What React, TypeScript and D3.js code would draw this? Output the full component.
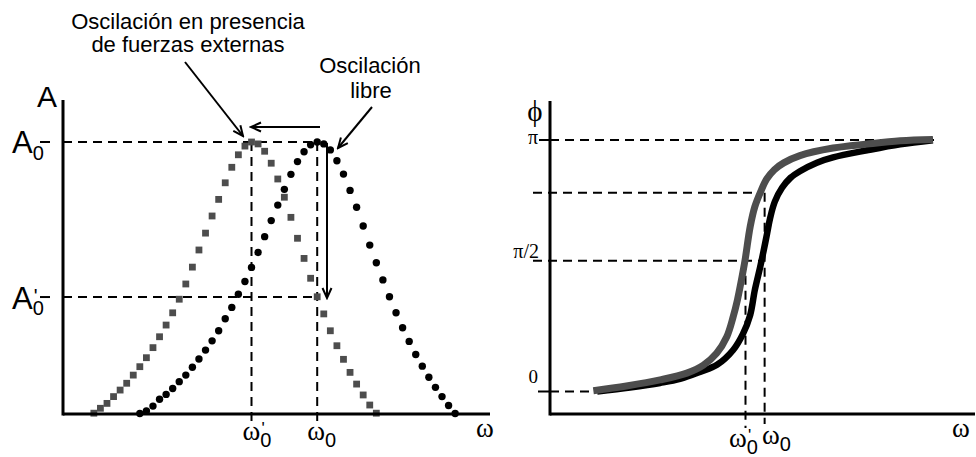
import React from "react";
import * as d3 from "d3";

// ---------- Left panel data (amplitude vs ω) ----------
const omegaForced = [5,6,7,8,9,10,11,12,13,14,15,16,17,18,19,20,21,22,23,24,25,26,27,28,29,30,31,32,33,34,35,36,37,38,39,40,41,42,43,44,45,46,47,48];
const ampForced = [0.003,0.021,0.039,0.064,0.088,0.113,0.143,0.174,0.207,0.244,0.284,0.327,0.372,0.422,0.478,0.54,0.603,0.665,0.728,0.789,0.85,0.907,0.953,0.985,1.0,0.993,0.966,0.922,0.864,0.797,0.723,0.646,0.572,0.499,0.431,0.368,0.306,0.251,0.201,0.153,0.11,0.07,0.033,0.003];

const omegaFree = [12,13,14,15,16,17,18,19,20,21,22,23,24,25,26,27,28,29,30,31,32,33,34,35,36,37,38,39,40,41,42,43,44,45,46,47,48,49,50,51,52,53,54,55,56,57,58,59,60];
const ampFree = [0.002,0.011,0.029,0.054,0.072,0.094,0.119,0.143,0.172,0.202,0.235,0.269,0.306,0.35,0.392,0.44,0.487,0.539,0.594,0.652,0.711,0.768,0.826,0.881,0.928,0.964,0.99,1.0,0.993,0.971,0.931,0.882,0.822,0.76,0.691,0.621,0.556,0.493,0.431,0.372,0.317,0.267,0.219,0.176,0.135,0.098,0.064,0.031,0.002];

const A0 = 1.0;
const A0prime = 0.43;
const wResForced = 29;
const wResFree = 39;

// ---------- Right panel data (phase vs ω) ----------
const phaseOmegaForced = [10.2,18.0,25.9,32.2,36.1,39.2,41.6,43.1,44.1,44.9,45.9,47.1,48.2,49.6,51.0,52.8,55.0,58.8,66.6,74.6,82.4,90.1];
const phaseForced = [0.003,0.022,0.046,0.073,0.105,0.152,0.218,0.297,0.364,0.431,0.523,0.655,0.735,0.796,0.845,0.882,0.909,0.938,0.968,0.984,0.997,1.002];

const phaseOmegaFree = [11.1,18.8,25.9,30.6,35.3,39.3,43.1,45.4,47.1,48.2,49.4,50.2,51.1,51.8,52.9,54.6,56.6,58.8,62.8,66.6,74.6,82.4,90.1];
const phaseFree = [0.0,0.016,0.034,0.05,0.078,0.106,0.165,0.229,0.304,0.404,0.491,0.554,0.63,0.69,0.755,0.81,0.85,0.876,0.91,0.931,0.959,0.983,0.999];

const phaseTickValues = [0, 0.52, 0.79, 1];
const phaseTickLabels = ["0", "π/2", "", "π"];
const phaseWForced = 46;
const phaseWFree = 50.5;

const GRAY = "#4d4d4d";
const SANS = "'Liberation Sans', Arial, sans-serif";
const SERIF = "'Liberation Serif', 'Times New Roman', serif";
const DASH = "9 6";

function OmegaLabel({ x, y, prime }: { x: number; y: number; prime?: boolean }) {
  return (
    <text x={x} y={y} fontFamily={SERIF} fontSize={27}>
      ω
      <tspan fontFamily={SANS} fontSize={20} dy={7}>0</tspan>
      {prime ? (
        <tspan fontFamily={SANS} fontSize={17} dx={-10} dy={-13}>'</tspan>
      ) : null}
    </text>
  );
}

export default function App() {
  const xL = d3.scaleLinear().domain([0, 65]).range([61, 488]);
  const yL = d3.scaleLinear().domain([0, 1]).range([414, 142]);
  const xR = d3.scaleLinear().domain([0, 100]).range([550, 975]);
  const yR = d3.scaleLinear().domain([0, 1]).range([391.5, 140]);

  const lineR = d3
    .line<[number, number]>()
    .x((d) => xR(d[0]))
    .y((d) => yR(d[1]))
    .curve(d3.curveCatmullRom.alpha(0.5));

  const forcedPts = phaseOmegaForced.map((w, i) => [w, phaseForced[i]] as [number, number]);
  const freePts = phaseOmegaFree.map((w, i) => [w, phaseFree[i]] as [number, number]);

  const xAxisYL = yL(0);
  const xAxisYR = 414;

  const arrow = "url(#arr)";

  return (
    <svg
      width={976}
      height={457}
      style={{ position: "absolute", left: 0, top: 0, background: "#fff" }}
    >
      <defs>
        <marker
          id="arr"
          viewBox="-12 -6 14 12"
          refX={0}
          refY={0}
          markerWidth={14}
          markerHeight={12}
          markerUnits="userSpaceOnUse"
          orient="auto"
        >
          <path d="M-10,-4.5 L0,0 L-10,4.5" fill="none" stroke="#000" strokeWidth={2} />
        </marker>
      </defs>

      {/* ================= LEFT PANEL ================= */}
      <g stroke="#000" strokeWidth={2} strokeDasharray={DASH} fill="none">
        <line x1={63} x2={xL(wResFree)} y1={yL(A0)} y2={yL(A0)} />
        <line x1={63} x2={xL(wResFree)} y1={yL(A0prime)} y2={yL(A0prime)} />
        <line x1={xL(wResForced)} x2={xL(wResForced)} y1={yL(A0)} y2={421} />
        <line x1={xL(wResFree)} x2={xL(wResFree)} y1={yL(A0)} y2={421} />
      </g>

      {omegaForced.map((w, i) => (
        <rect
          key={"s" + i}
          x={xL(w) - 3.4}
          y={yL(ampForced[i]) - 3.4}
          width={6.8}
          height={6.8}
          fill={GRAY}
        />
      ))}
      {omegaFree.map((w, i) => (
        <circle key={"c" + i} cx={xL(w)} cy={yL(ampFree[i])} r={3.7} fill="#000" />
      ))}

      <line x1={63} x2={63} y1={100} y2={xAxisYL + 1.5} stroke="#000" strokeWidth={3} />
      <line x1={63} x2={490} y1={xAxisYL} y2={xAxisYL} stroke="#000" strokeWidth={3} />
      <line x1={40} x2={50} y1={yL(A0)} y2={yL(A0)} stroke="#000" strokeWidth={2} />
      <line x1={40} x2={50} y1={yL(A0prime)} y2={yL(A0prime)} stroke="#000" strokeWidth={2} />

      <text x={37} y={107} fontFamily={SANS} fontSize={30}>A</text>
      <text x={12} y={153} fontFamily={SANS} fontSize={31}>
        A<tspan fontSize={20} dy={7}>0</tspan>
      </text>
      <text x={12} y={309} fontFamily={SANS} fontSize={31}>
        A<tspan fontSize={20} dy={6}>0</tspan>
        <tspan fontSize={20} dx={-10} dy={-12}>'</tspan>
      </text>

      <OmegaLabel x={xL(wResForced) - 9} y={440} prime />
      <OmegaLabel x={xL(wResFree) - 10} y={440} />
      <text x={476} y={437} fontFamily={SERIF} fontSize={27}>ω</text>

      <text x={188} y={29} textAnchor="middle" fontFamily={SANS} fontSize={22}>
        Oscilación en presencia
      </text>
      <text x={188} y={52} textAnchor="middle" fontFamily={SANS} fontSize={22}>
        de fuerzas externas
      </text>
      <text x={370} y={73} textAnchor="middle" fontFamily={SANS} fontSize={22}>
        Oscilación
      </text>
      <text x={371} y={98} textAnchor="middle" fontFamily={SANS} fontSize={22}>
        libre
      </text>

      <g stroke="#000" strokeWidth={2} fill="none">
        <line x1={185} y1={62} x2={243} y2={136} markerEnd={arrow} />
        <line x1={372} y1={107} x2={338} y2={148} markerEnd={arrow} />
        <line x1={320} y1={127} x2={251} y2={127} markerEnd={arrow} />
        <line x1={327} y1={143} x2={327} y2={298} markerEnd={arrow} />
      </g>

      {/* ================= RIGHT PANEL ================= */}
      <g stroke="#000" strokeWidth={2} strokeDasharray={DASH} fill="none">
        <line x1={550} x2={935} y1={yR(phaseTickValues[3])} y2={yR(phaseTickValues[3])} />
        <line x1={533} x2={763} y1={yR(phaseTickValues[2])} y2={yR(phaseTickValues[2])} />
        <line x1={533} x2={764} y1={yR(phaseTickValues[1])} y2={yR(phaseTickValues[1])} />
        <line x1={550} x2={592} y1={yR(phaseTickValues[0])} y2={yR(phaseTickValues[0])} />
        <line x1={xR(phaseWForced)} x2={xR(phaseWForced)} y1={yR(phaseTickValues[1])} y2={428} />
        <line x1={xR(phaseWFree)} x2={xR(phaseWFree)} y1={yR(phaseTickValues[2])} y2={424} />
      </g>

      <path d={lineR(freePts) || ""} fill="none" stroke="#000" strokeWidth={6.5} />
      <path d={lineR(forcedPts) || ""} fill="none" stroke={GRAY} strokeWidth={7} />

      <line x1={550} x2={550} y1={101} y2={xAxisYR + 1.5} stroke="#000" strokeWidth={3} />
      <line x1={550} x2={975} y1={xAxisYR} y2={xAxisYR} stroke="#000" strokeWidth={3} />
      <line x1={539} x2={550} y1={yR(1)} y2={yR(1)} stroke="#000" strokeWidth={2} />
      <line x1={538} x2={550} y1={yR(0)} y2={yR(0)} stroke="#000" strokeWidth={2} />

      <text x={535} y={121} textAnchor="middle" fontFamily={SERIF} fontSize={29}>ϕ</text>
      <text x={538} y={144} textAnchor="end" fontFamily={SERIF} fontSize={20}>{phaseTickLabels[3]}</text>
      <text x={539} y={258} textAnchor="end" fontFamily={SERIF} fontSize={20}>{phaseTickLabels[1]}</text>
      <text x={538} y={383} textAnchor="end" fontFamily={SERIF} fontSize={19}>{phaseTickLabels[0]}</text>

      <OmegaLabel x={729} y={447} prime />
      <OmegaLabel x={762} y={444} />
      <text x={952} y={437} fontFamily={SERIF} fontSize={27}>ω</text>
    </svg>
  );
}
